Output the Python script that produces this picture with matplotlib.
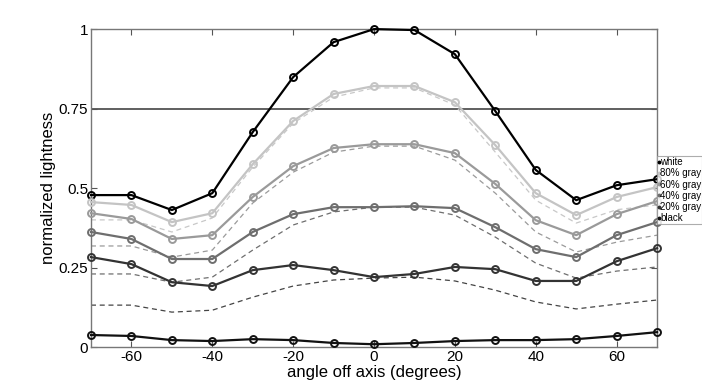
import numpy as np
import matplotlib
matplotlib.use("Agg")
import matplotlib.pyplot as plt

plt.rcParams['font.family'] = ['Liberation Sans', 'DejaVu Sans']
plt.rcParams['axes.unicode_minus'] = False

angles = [-70, -60, -50, -40, -30, -20, -10, 0, 10, 20, 30, 40, 50, 60, 70]

# measured lightness
white = [0.478, 0.478, 0.431, 0.484, 0.676, 0.849, 0.959, 1.0, 0.997, 0.921, 0.742, 0.557, 0.462, 0.509, 0.528]
gray80 = [0.456, 0.447, 0.393, 0.421, 0.575, 0.711, 0.796, 0.821, 0.821, 0.770, 0.635, 0.484, 0.415, 0.472, 0.503]
gray60 = [0.421, 0.403, 0.340, 0.352, 0.472, 0.569, 0.626, 0.638, 0.638, 0.610, 0.513, 0.399, 0.352, 0.418, 0.459]
gray40 = [0.362, 0.340, 0.277, 0.277, 0.362, 0.418, 0.440, 0.440, 0.443, 0.437, 0.377, 0.308, 0.283, 0.352, 0.393]
gray20 = [0.283, 0.261, 0.204, 0.192, 0.242, 0.258, 0.242, 0.220, 0.230, 0.252, 0.245, 0.208, 0.208, 0.270, 0.311]
black = [0.038, 0.035, 0.022, 0.019, 0.025, 0.022, 0.013, 0.009, 0.013, 0.019, 0.022, 0.022, 0.025, 0.035, 0.047]

# expected (dashed) curves
exp80 = [0.400, 0.400, 0.362, 0.406, 0.566, 0.704, 0.786, 0.815, 0.815, 0.761, 0.613, 0.462, 0.390, 0.432, 0.447]
exp60 = [0.318, 0.318, 0.283, 0.305, 0.453, 0.550, 0.613, 0.632, 0.632, 0.588, 0.484, 0.362, 0.299, 0.330, 0.352]
exp40 = [0.230, 0.230, 0.204, 0.220, 0.305, 0.384, 0.425, 0.440, 0.440, 0.415, 0.346, 0.264, 0.217, 0.239, 0.252]
exp20 = [0.132, 0.132, 0.110, 0.116, 0.157, 0.192, 0.211, 0.217, 0.220, 0.208, 0.179, 0.142, 0.120, 0.135, 0.148]

labels = ['white', '80% gray', '60% gray', '40% gray', '20% gray', 'black']
series = [white, gray80, gray60, gray40, gray20, black]
colors = ['#000000', '#c4c4c4', '#9a9a9a', '#6e6e6e', '#333333', '#111111']
dashed = [exp80, exp60, exp40, exp20]
dcolors = ['#c8c8c8', '#9a9a9a', '#6e6e6e', '#444444']

fig = plt.figure(figsize=(7.02, 3.9), dpi=100)
ax = fig.add_axes([0.1296, 0.110, 0.8064, 0.8154])

ax.axhline(0.75, color='#444444', lw=1.2, zorder=1)

for d, c in zip(dashed, dcolors):
    ax.plot(angles, d, ls=(0, (4, 3)), color=c, lw=0.9, zorder=2)

handles = []
for s, c, lab in zip(series, colors, labels):
    ax.plot(angles, s, '-', color=c, lw=1.6, zorder=3,
            marker='o', ms=5, mfc='none', mec=c, mew=1.4, clip_on=False)
    h, = ax.plot([], [], ls='none', marker='o', ms=1.8, color=c, label=lab)
    handles.append(h)

ax.set_xlim(-70, 70)
ax.set_ylim(0, 1)
ax.set_xticks([-60, -40, -20, 0, 20, 40, 60])
ax.set_yticks([0, 0.25, 0.5, 0.75, 1])
ax.set_yticklabels(['0', '0.25', '0.5', '0.75', '1'])
ax.tick_params(direction='in', top=True, right=True, labelsize=11,
               color='#555555', length=4, pad=2)
for sp in ax.spines.values():
    sp.set_color('#777777')
    sp.set_linewidth(1.0)

ax.set_xlabel('angle off axis (degrees)', fontsize=12, labelpad=1)
ax.set_ylabel('normalized lightness', fontsize=12, labelpad=2)

leg = ax.legend(handles=handles, loc='upper left', bbox_to_anchor=(1.0, 0.600),
                fontsize=7.0, frameon=True, fancybox=False, handlelength=0.15,
                handletextpad=0.05, borderpad=0.1, labelspacing=0.12,
                borderaxespad=0)
leg.get_frame().set_edgecolor('#999999')
leg.get_frame().set_linewidth(0.8)

fig.savefig('out.png', dpi=100)
